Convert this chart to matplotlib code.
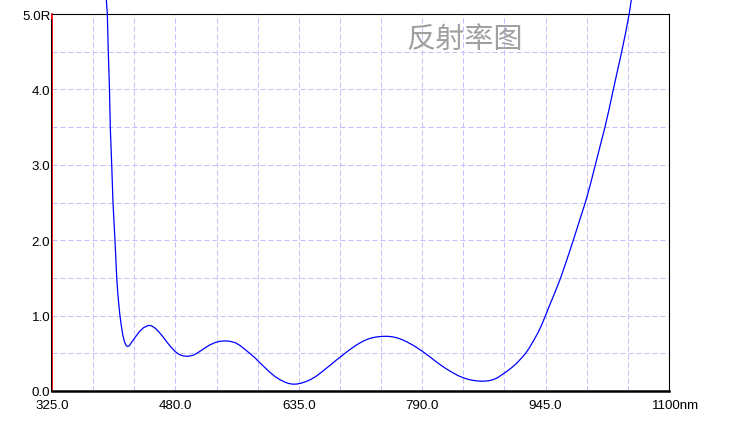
import matplotlib
matplotlib.use("Agg")
import matplotlib.pyplot as plt
from matplotlib.lines import Line2D
from matplotlib.transforms import ScaledTranslation
import numpy as np

# ---- data ----
wavelength = [392.8, 394.5, 395.7, 397.2, 398.2, 400.0, 401.6, 404.1, 406.3, 408.0,
              410.0, 412.0, 414.0, 416.0, 418.0, 420.0, 422.0, 425.0, 430.0, 435.0,
              440.0, 446.0, 450.0, 455.0, 460.0, 465.0, 470.0, 475.0, 480.0, 485.0,
              490.0, 496.0, 502.0, 507.0, 512.0, 517.0, 523.0, 530.0, 536.0, 542.0,
              548.0, 555.0, 561.0, 567.0, 573.0, 580.0, 586.0, 593.0, 599.0, 605.0,
              611.0, 618.0, 623.0, 628.0, 633.0, 638.0, 644.0, 650.0, 656.0, 662.0,
              668.0, 675.0, 681.0, 687.0, 693.0, 699.0, 705.0, 711.0, 717.0, 723.0,
              729.0, 735.0, 741.0, 747.0, 753.0, 759.0, 765.0, 771.0, 777.0, 783.0,
              789.0, 795.0, 801.0, 807.0, 813.0, 819.0, 825.0, 831.0, 837.0, 843.0,
              849.0, 855.0, 861.0, 867.0, 873.0, 879.0, 885.0, 891.0, 897.0, 903.0,
              909.0, 915.0, 920.0, 925.0, 930.0, 935.0, 940.0, 944.3, 950.0, 957.0,
              963.9, 972.0, 979.8, 987.0, 994.9, 1001.0, 1007.5, 1013.5, 1019.6, 1025.0,
              1030.1, 1035.5, 1040.6, 1045.5, 1050.0, 1053.5]
reflectance = [5.25, 5.0, 4.5, 4.0, 3.5, 3.0, 2.5, 2.0, 1.5, 1.25,
               1.03, 0.87, 0.74, 0.655, 0.605, 0.59, 0.60, 0.645, 0.72, 0.79,
               0.84, 0.87, 0.865, 0.83, 0.775, 0.71, 0.64, 0.575, 0.52, 0.483,
               0.465, 0.46, 0.473, 0.50, 0.535, 0.57, 0.61, 0.643, 0.66, 0.665,
               0.66, 0.642, 0.605, 0.555, 0.503, 0.44, 0.375, 0.305, 0.245, 0.193,
               0.152, 0.115, 0.098, 0.09, 0.093, 0.104, 0.125, 0.153, 0.19, 0.237,
               0.288, 0.347, 0.40, 0.45, 0.50, 0.548, 0.593, 0.633, 0.667, 0.693,
               0.71, 0.72, 0.725, 0.725, 0.718, 0.703, 0.68, 0.65, 0.616, 0.578,
               0.535, 0.49, 0.442, 0.393, 0.346, 0.303, 0.263, 0.227, 0.195, 0.17,
               0.151, 0.139, 0.132, 0.13, 0.135, 0.15, 0.178, 0.222, 0.265, 0.315,
               0.372, 0.44, 0.50, 0.58, 0.67, 0.765, 0.875, 0.985, 1.135, 1.315,
               1.5, 1.75, 2.0, 2.24, 2.5, 2.73, 3.0, 3.25, 3.5, 3.75,
               4.0, 4.26, 4.5, 4.75, 5.0, 5.25]

x_ticks = [325, 480, 635, 790, 945, 1100]
x_labels = ["325.0", "480.0", "635.0", "790.0", "945.0", "1100nm"]
y_ticks = [0, 1, 2, 3, 4, 5]
y_labels = ["0.0", "1.0", "2.0", "3.0", "4.0", "5.0R"]
title = "反射率图"

# ---- figure ----
W, H = 729, 427
fig = plt.figure(figsize=(W / 100, H / 100), dpi=100)
fig.patch.set_facecolor("white")
ax = fig.add_axes([52 / W, 35 / H, (669 - 52) / W, (392 - 15) / H])

ax.plot(wavelength, reflectance, color="#0000ff", lw=0.9, clip_on=False, zorder=3)

ax.set_xlim(325, 1100)
ax.set_ylim(0, 5)
ax.set_xticks(x_ticks)
ax.set_xticklabels(x_labels)
ax.set_yticks(y_ticks)
ax.set_yticklabels(y_labels)
ax.set_xticks(np.linspace(325, 1100, 16), minor=True)
ax.set_yticks(np.arange(0, 5.01, 0.5), minor=True)

grid_kw = dict(color="#c0c0ff", lw=0.72, linestyle=(0, (5, 3)))
ax.grid(True, which="both", **grid_kw)
ax.set_axisbelow(True)

fam = ["Liberation Sans Narrow", "Liberation Sans", "DejaVu Sans"]
ax.tick_params(which="both", length=0)
ax.tick_params(axis="x", pad=6)
ax.tick_params(axis="y", pad=1.2)
for lab in ax.get_xticklabels() + ax.get_yticklabels():
    lab.set_family(fam)
    lab.set_fontsize(9.6)
    lab.set_color("black")
last = ax.get_xticklabels()[-1]
last.set_transform(last.get_transform() + ScaledTranslation(6.5 / 100, 0, fig.dpi_scale_trans))

ax.spines["left"].set_color("#ff0000")
ax.spines["left"].set_linewidth(1.3)
ax.spines["bottom"].set_color("black")
ax.spines["bottom"].set_linewidth(1.8)
ax.spines["top"].set_color("black")
ax.spines["top"].set_linewidth(0.8)
ax.spines["right"].set_color("black")
ax.spines["right"].set_linewidth(0.8)

fig.add_artist(Line2D([50.6 / W, 50.6 / W], [35 / H, (H - 20) / H],
                      color="black", lw=0.75))

fig.text(464.7 / W, 1 - 40 / H, title, ha="center", va="center",
         fontsize=21, color="#a0a0a0",
         family=["Noto Sans CJK SC", "DejaVu Sans"])

fig.savefig("out.png", dpi=100, facecolor="white")
